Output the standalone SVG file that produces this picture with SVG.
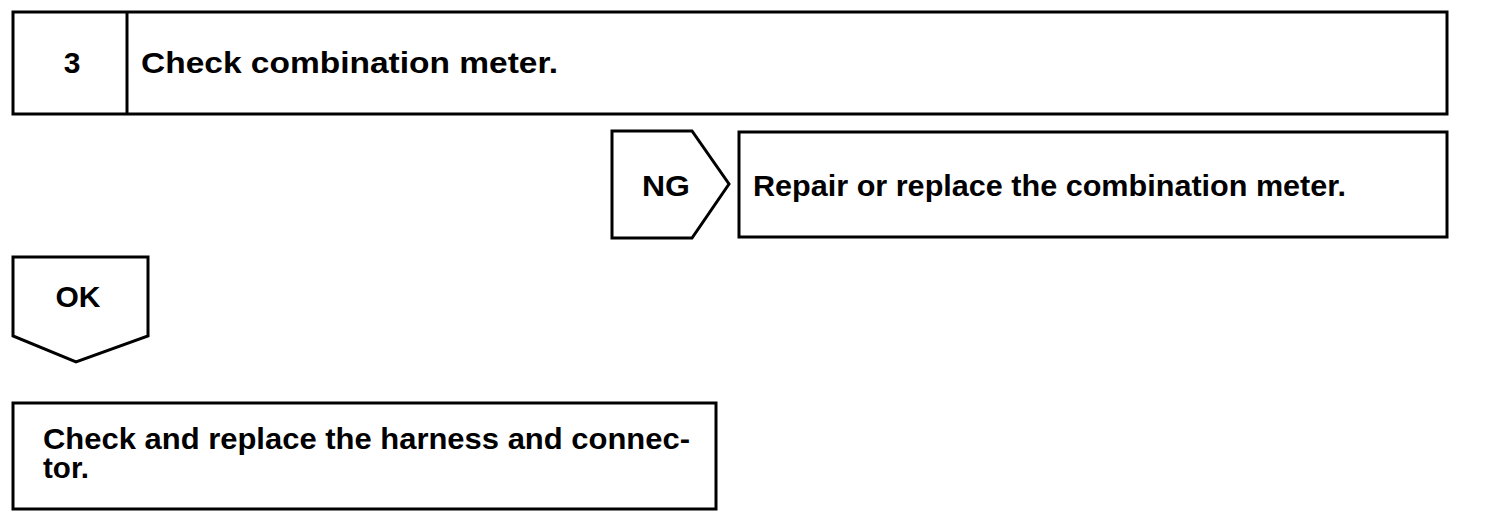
<svg xmlns="http://www.w3.org/2000/svg" width="1504" height="518" viewBox="0 0 1504 518">
<style>
.box{fill:#fff;stroke:#000;stroke-width:3;stroke-linejoin:miter}
.t{font-family:"Liberation Sans",Arial,sans-serif;font-weight:bold;font-size:30px;fill:#000}
</style>
<rect width="1504" height="518" fill="#fff"/>
<g id="step3">
<rect class="box" x="13" y="12" width="1434" height="102"/>
<line class="box" x1="127" y1="12" x2="127" y2="114"/>
<text class="t" x="72" y="73" text-anchor="middle">3</text>
<text class="t" x="141" y="73" textLength="417" lengthAdjust="spacingAndGlyphs">Check combination meter.</text>
</g>
<g id="ng">
<polygon class="box" points="612,131 692,131 729,184 692,238 612,238"/>
<text class="t" x="666" y="196" text-anchor="middle" textLength="48" lengthAdjust="spacingAndGlyphs">NG</text>
</g>
<g id="repair">
<rect class="box" x="739" y="132" width="708" height="105"/>
<text class="t" x="753" y="196" textLength="593" lengthAdjust="spacingAndGlyphs">Repair or replace the combination meter.</text>
</g>
<g id="ok">
<polygon class="box" points="13,257 148,257 148,336 76,362 13,336"/>
<text class="t" x="78" y="307" text-anchor="middle">OK</text>
</g>
<g id="harness">
<rect class="box" x="13" y="403" width="703" height="106"/>
<text class="t" x="43" y="449" textLength="647" lengthAdjust="spacingAndGlyphs">Check and replace the harness and connec-</text>
<text class="t" x="43" y="478" textLength="46" lengthAdjust="spacingAndGlyphs">tor.</text>
</g>
<g id="connectors"></g>
</svg>
